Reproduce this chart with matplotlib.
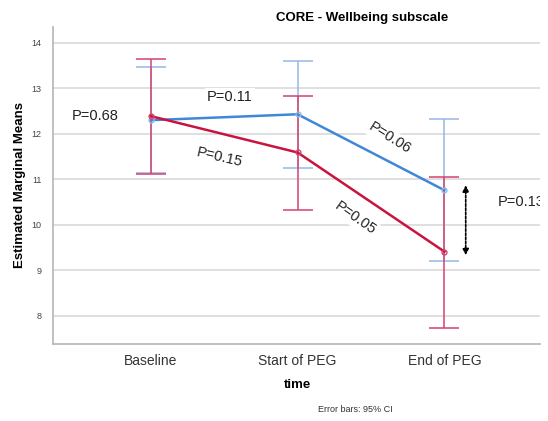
import matplotlib.pyplot as plt
import numpy as np

plt.rcParams['font.family'] = ['Liberation Sans', 'DejaVu Sans']

times = ['Baseline', 'Start of PEG', 'End of PEG']
x = np.arange(len(times))

# group 1 (blue)
blue_mean = np.array([12.30, 12.43, 10.76])
blue_low = np.array([11.13, 11.25, 9.20])
blue_high = np.array([13.48, 13.60, 12.32])

# group 2 (red)
red_mean = np.array([12.39, 11.59, 9.41])
red_low = np.array([11.12, 10.32, 7.74])
red_high = np.array([13.64, 12.84, 11.04])

yticks = [8, 9, 10, 11, 12, 13, 14]

# p-value labels: text, x, y, rotation
p_labels = ['P=0.68', 'P=0.11', 'P=0.15', 'P=0.06', 'P=0.05']
p_x = [-0.38, 0.54, 0.47, 1.63, 1.39]
p_y = [12.40, 12.80, 11.48, 11.90, 10.15]
p_rot = [0, 0, -13, -32, -35]

fig = plt.figure(figsize=(5.48, 4.21), dpi=100)
ax = fig.add_axes([0.0962, 0.183, 0.889, 0.753])

blue_line = '#3f87d8'
blue_err = '#93b9e6'
red_line = '#c8143e'
red_err = '#d4436e'

ax.errorbar(x, blue_mean, yerr=[blue_mean - blue_low, blue_high - blue_mean],
            fmt='none', ecolor=blue_err, elinewidth=1.1, capsize=11, capthick=1.1, zorder=3)
ax.errorbar(x, red_mean, yerr=[red_mean - red_low, red_high - red_mean],
            fmt='none', ecolor=red_err, elinewidth=1.1, capsize=11, capthick=1.1, zorder=4)
ax.plot(x, blue_mean, color=blue_line, lw=1.8, marker='o', ms=3.5,
        mfc='none', mec=blue_err, zorder=5)
ax.plot(x, red_mean, color=red_line, lw=1.8, marker='o', ms=3.5,
        mfc='none', mec=red_err, zorder=6)

for t, tx, ty, r in zip(p_labels, p_x, p_y, p_rot):
    ax.text(tx, ty, t, fontsize=10.5, rotation=r, ha='center', va='center',
            rotation_mode='anchor', color='#222222',
            bbox=dict(facecolor='white', edgecolor='none', pad=1.5), zorder=2)

ax.text(2.36, 10.5, 'P=0.13', fontsize=10.5, ha='left', va='center', color='#222222',
        clip_on=True)

# dotted double arrow between groups at End of PEG
ax.annotate('', xy=(2.145, 9.33), xytext=(2.145, 10.87),
            arrowprops=dict(arrowstyle='<|-|>', linestyle=(0, (1.5, 1)), color='black',
                            lw=1.2, mutation_scale=9, shrinkA=0, shrinkB=0), zorder=7)

ax.set_xlim(-0.667, 2.65)
ax.set_ylim(7.38, 14.35)
ax.set_xticks(x)
ax.set_xticklabels(times, fontsize=10, color='#333333')
ax.set_yticks(yticks)
ax.set_yticklabels([str(v) for v in yticks], fontsize=6.5, color='#444444')
ax.tick_params(length=0, axis='y', pad=8)
ax.tick_params(length=0, axis='x', pad=7)
ax.grid(axis='y', color='#d6d6d6', lw=1.1, zorder=0)
ax.set_axisbelow(True)
for s in ['top', 'right']:
    ax.spines[s].set_visible(False)
for s in ['left', 'bottom']:
    ax.spines[s].set_color('#b5b5b5')
    ax.spines[s].set_linewidth(1.2)

ax.set_ylabel('Estimated Marginal Means', fontsize=9.5, fontweight='bold')
ax.yaxis.set_label_coords(-0.055, 0.5)
fig.text(298 / 548, 1 - 385 / 421, 'time', fontsize=9.5, fontweight='bold',
         ha='center', va='center')
fig.text(362 / 548, 1 - 18 / 421, 'CORE - Wellbeing subscale', fontsize=9.5,
         fontweight='bold', ha='center', va='center')
fig.text(355 / 548, 1 - 410 / 421, 'Error bars: 95% CI', fontsize=6.5,
         ha='center', va='center', color='#333333')

fig.savefig('out.png', dpi=100)
